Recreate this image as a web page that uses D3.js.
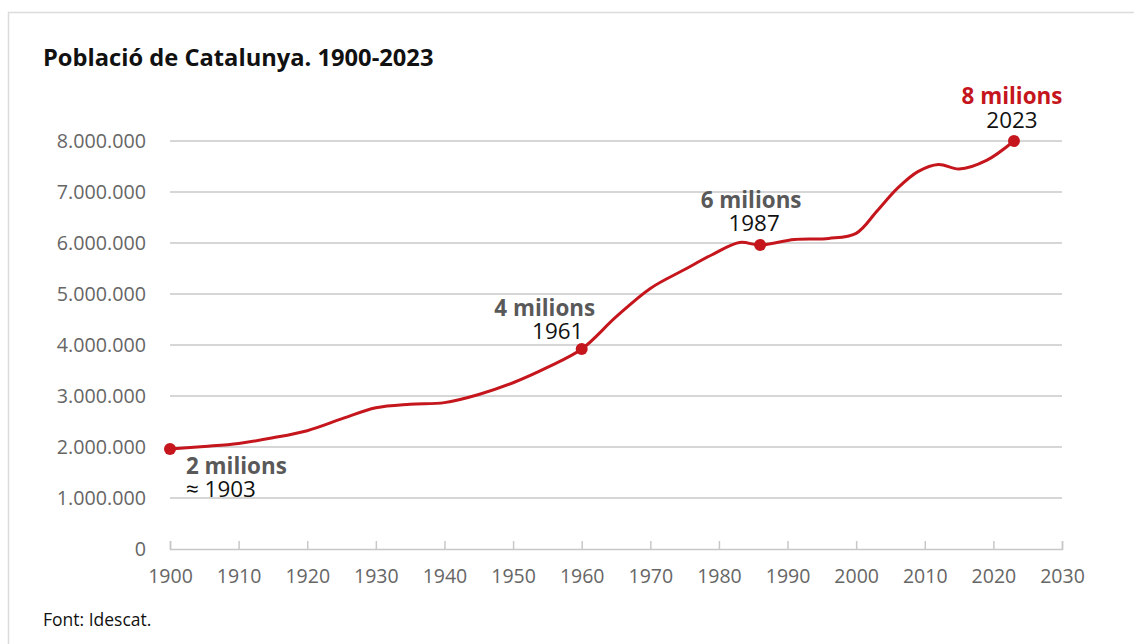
<!DOCTYPE html>
<html lang="ca">
<head>
<meta charset="utf-8">
<title>Població de Catalunya. 1900-2023</title>
<style>
  body { margin: 0; background: #fff; font-family: "Open Sans", sans-serif; }
  svg { display: block; }
</style>
</head>
<body>
<script src="https://d3js.org/d3.v7.min.js"></script>
<svg id="chart"></svg>
<script>
  const width = 1134;
  const height = 644;

  // population (millions)
  const years = [1900, 1905, 1910, 1915, 1920, 1925, 1930, 1935, 1940, 1945, 1950, 1955, 1960, 1965, 1970, 1975, 1979, 1983, 1986, 1991, 1996, 2000, 2003, 2006, 2009, 2012, 2015, 2019, 2023];
  const population = [1.96, 2.01, 2.07, 2.18, 2.32, 2.55, 2.77, 2.84, 2.87, 3.03, 3.26, 3.56, 3.92, 4.55, 5.11, 5.48, 5.77, 6.01, 5.96, 6.07, 6.09, 6.19, 6.62, 7.07, 7.40, 7.54, 7.45, 7.62, 8.00];

  // milestone markers
  const markYears = [1900, 1960, 1986, 2023];
  const markTitles = ["2 milions", "4 milions", "6 milions", "8 milions"];
  const markLabels = ["≈ 1903", "1961", "1987", "2023"];

  const yTicks = [0, 1, 2, 3, 4, 5, 6, 7, 8];
  const xTicks = d3.range(1900, 2031, 10);

  const data = years.map((y, i) => ({ year: y, value: population[i] }));

  const svg = d3.select("#chart")
    .attr("width", width)
    .attr("height", height);

  // frame
  svg.append("rect")
    .attr("x", 8.5)
    .attr("y", 12.5)
    .attr("width", width + 20)
    .attr("height", height + 20)
    .attr("fill", "none")
    .attr("stroke", "#dcdcdc")
    .attr("stroke-width", 1.5);

  const x = d3.scaleLinear().domain([1900, 2030]).range([170, 1062]);
  const y = d3.scaleLinear().domain([0, 8]).range([549, 141]);

  svg.append("text")
    .attr("x", 43)
    .attr("y", 66)
    .attr("font-size", 23.7)
    .attr("font-weight", 700)
    .attr("fill", "#111")
    .text("Població de Catalunya. 1900-2023");

  // grid lines
  svg.append("g")
    .selectAll("line")
    .data(yTicks.filter(d => d > 0))
    .join("line")
    .attr("x1", x(1900))
    .attr("x2", x(2030))
    .attr("y1", d => y(d))
    .attr("y2", d => y(d))
    .attr("stroke", "#c8c8c8")
    .attr("stroke-width", 1.5);

  // y labels
  const fmt = d3.formatLocale({ decimal: ",", thousands: ".", grouping: [3], currency: ["", "€"] }).format(",d");
  svg.append("g")
    .selectAll("text")
    .data(yTicks)
    .join("text")
    .attr("x", 146)
    .attr("y", d => y(d))
    .attr("dy", "0.35em")
    .attr("text-anchor", "end")
    .attr("font-size", 19.7)
    .attr("fill", "#666")
    .text(d => fmt(d * 1000000));

  // x axis
  const xAxis = svg.append("g")
    .attr("transform", `translate(0,${y(0)})`)
    .call(d3.axisBottom(x).tickValues(xTicks).tickFormat(d3.format("d")).tickSize(-8).tickPadding(20));
  xAxis.select(".domain").attr("stroke", "#c8c8c8").attr("stroke-width", 1.5);
  xAxis.selectAll(".tick line").attr("stroke", "#c8c8c8").attr("stroke-width", 1.5);
  xAxis.selectAll(".tick text")
    .attr("font-family", "Open Sans, sans-serif")
    .attr("font-size", 19.5)
    .attr("fill", "#666");

  const line = d3.line()
    .x(d => x(d.year))
    .y(d => y(d.value))
    .curve(d3.curveCatmullRom.alpha(0.5));

  svg.append("path")
    .datum(data)
    .attr("d", line)
    .attr("fill", "none")
    .attr("stroke", "#c4161c")
    .attr("stroke-width", 3)
    .attr("stroke-linejoin", "round");

  const marks = markYears.map((yr, i) => ({
    year: yr,
    value: data.find(d => d.year === yr).value,
    title: markTitles[i],
    label: markLabels[i]
  }));

  svg.append("g")
    .selectAll("circle")
    .data(marks)
    .join("circle")
    .attr("cx", d => x(d.year))
    .attr("cy", d => y(d.value))
    .attr("r", 6)
    .attr("fill", "#c4161c");

  // label placement relative to each point: [title dx, title dy, label dx, label dy, anchor]
  const labelPos = [
    [16, 25, 16, 48, "start"],
    [-37, -33, -24, -10, "middle"],
    [-9, -37, -6, -14, "middle"],
    [-2, -37, -2, -13, "middle"]
  ];

  const ann = svg.append("g")
    .selectAll("g")
    .data(marks)
    .join("g")
    .attr("transform", d => `translate(${x(d.year)},${y(d.value)})`);

  ann.append("text")
    .attr("x", (d, i) => labelPos[i][0])
    .attr("y", (d, i) => labelPos[i][1])
    .attr("text-anchor", (d, i) => labelPos[i][4])
    .attr("font-size", 22.4)
    .attr("font-weight", 700)
    .attr("fill", (d, i) => i === 3 ? "#c4161c" : "#595959")
    .text(d => d.title);

  ann.append("text")
    .attr("x", (d, i) => labelPos[i][2])
    .attr("y", (d, i) => labelPos[i][3])
    .attr("text-anchor", (d, i) => labelPos[i][4])
    .attr("font-size", 22.4)
    .attr("fill", "#111")
    .text(d => d.label);

  svg.append("text")
    .attr("x", 43)
    .attr("y", 626)
    .attr("font-size", 17.5)
    .attr("fill", "#111")
    .text("Font: Idescat.");
</script>
</body>
</html>
